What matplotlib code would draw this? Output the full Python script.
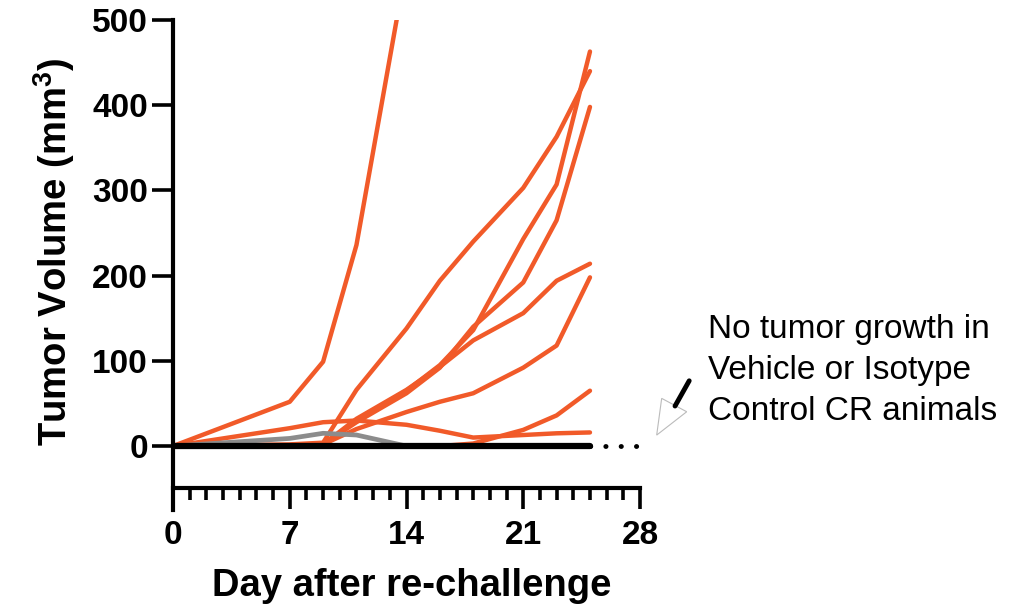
import numpy as np
import matplotlib
matplotlib.use("Agg")
import matplotlib.pyplot as plt
from matplotlib.ticker import MultipleLocator
from matplotlib.patches import Polygon

plt.rcParams['font.family'] = ['Liberation Sans', 'DejaVu Sans']
plt.rcParams['mathtext.fontset'] = 'custom'
plt.rcParams['mathtext.rm'] = 'Liberation Sans:bold'
plt.rcParams['mathtext.bf'] = 'Liberation Sans:bold'

orange = '#F15A29'
grey = '#8C8C8C'

# measurement days
days = [0, 7, 9, 11, 14, 16, 18, 21, 23, 25]

# anti-PD-1 CR animals, re-challenged (tumor volume, mm3)
m1_days = [0, 7, 9, 11, 14]
m1 = [0, 52, 99, 236, 565]
m2 = [0, 2, 4, 66, 138, 194, 240, 303, 363, 440]
m3 = [0, 1, 2, 30, 65, 95, 136, 243, 307, 463]
m4 = [0, 1, 2, 28, 62, 92, 140, 192, 265, 398]
m5 = [0, 1, 2, 32, 66, 93, 124, 156, 194, 214]
m6 = [0, 1, 2, 20, 40, 52, 62, 92, 118, 198]
m7 = [0, 0, 0, 0, 0, 0, 3, 19, 36, 65]
m8 = [0, 21, 28, 30, 25, 18, 10, 13, 15, 16]

# single grey animal
g_days = [0, 7, 9, 11, 14]
g1 = [0, 9, 15, 13, 0]

# vehicle / isotype control CR animals
ctrl = [0, 0, 0, 0, 0, 0, 0, 0, 0, 0]
ctrl_ext_days = [25, 28]
ctrl_ext = [0, 0]

fig = plt.figure(figsize=(10.25, 6.13), dpi=100)
ax = fig.add_axes([173/1025, 103/613, 467/1025, 490/613])

kw = dict(lw=3.2, solid_capstyle='round', solid_joinstyle='round')
ax.plot(m1_days, m1, color=orange, **kw)
for m in [m2, m3, m4, m5, m6, m7, m8]:
    ax.plot(days, m, color=orange, **kw)
ax.plot(g_days, g1, color=grey, lw=3.4, solid_capstyle='round',
        solid_joinstyle='round')
ax.plot(days, ctrl, color='black', lw=4.5, solid_capstyle='round', zorder=5)
ax.plot(ctrl_ext_days, ctrl_ext, color='black', lw=3.5,
        linestyle=(0, (0.05, 3.1)), dash_capstyle='round', zorder=5,
        clip_on=False)

ax.set_xlim(0, 28)
ax.set_ylim(-75, 500)

for s in ['top', 'right']:
    ax.spines[s].set_visible(False)
ax.spines['bottom'].set_position(('data', -49))
for s in ['left', 'bottom']:
    ax.spines[s].set_linewidth(3)
    ax.spines[s].set_capstyle('projecting')

ax.set_xticks([0, 7, 14, 21, 28])
ax.xaxis.set_minor_locator(MultipleLocator(1))
ax.set_yticks([0, 100, 200, 300, 400, 500])
ax.tick_params(axis='x', which='major', length=15, width=2.6, pad=8,
               labelsize=24)
ax.tick_params(axis='x', which='minor', length=8.5, width=2.6)
ax.tick_params(axis='y', which='major', length=15, width=2.6, pad=3,
               labelsize=24)
for lab in ax.get_xticklabels() + ax.get_yticklabels():
    lab.set_fontweight('bold')

ax.set_xlabel('Day after re-challenge', fontsize=27.5, fontweight='bold')
ax.set_ylabel('Tumor Volume (mm$^{3}$)', fontsize=27.5, fontweight='bold')
ax.xaxis.set_label_coords(0.512, -0.118)
ax.yaxis.set_label_coords(-0.205, 0.527)

# callout for the control animals
ax.text(32.1, 155, 'No tumor growth in\nVehicle or Isotype\nControl CR animals',
        fontsize=24, va='top', ha='left', linespacing=1.42, clip_on=False)
ax.plot([30.95, 30.1], [76.6, 47], color='black', lw=3.5,
        solid_capstyle='round', clip_on=False)
ax.add_patch(Polygon([[29.3, 56], [30.8, 40.3], [29.0, 12.9]], closed=True,
                     facecolor='white', edgecolor='#BBBBBB', lw=0.8,
                     clip_on=False))

fig.savefig('out.png', dpi=100)
